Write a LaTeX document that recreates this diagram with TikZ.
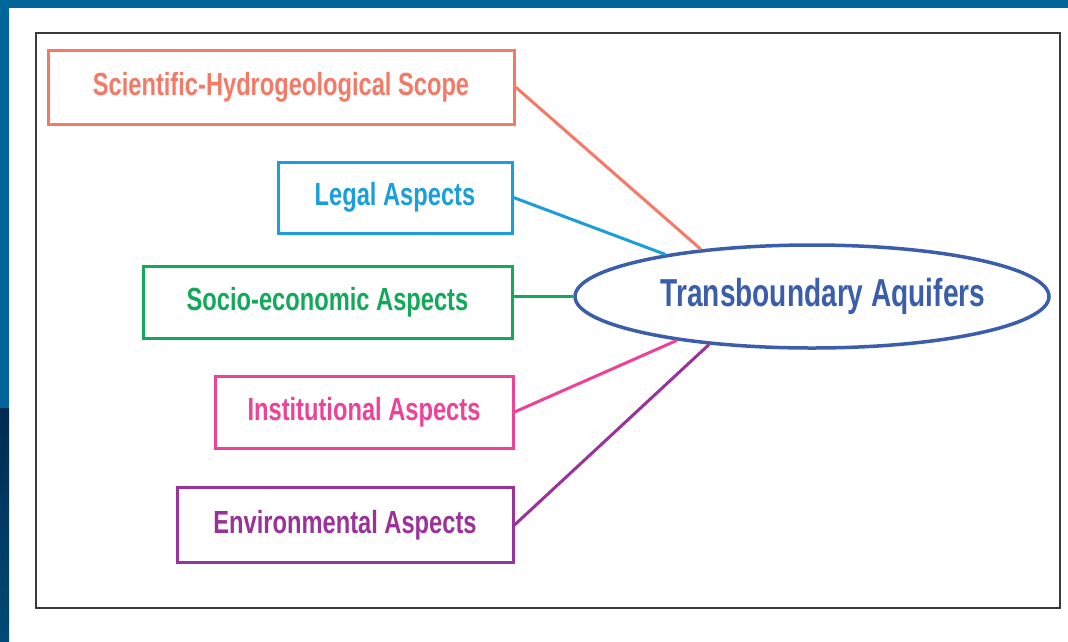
\documentclass[tikz,border=0pt]{standalone}
\usepackage{fontspec}
\usetikzlibrary{shapes.geometric}
\newfontfamily\lblfont[FakeStretch=0.74]{Liberation Sans}
\newfontfamily\hubfont[FakeStretch=0.72]{Liberation Sans}
\definecolor{cSci}{HTML}{F27A66}
\definecolor{cLeg}{HTML}{1A9FDB}
\definecolor{cSoc}{HTML}{13A85A}
\definecolor{cIns}{HTML}{EC4399}
\definecolor{cEnv}{HTML}{993399}
\definecolor{cTA}{HTML}{3B5EAB}
\definecolor{slideblue}{HTML}{006699}
\definecolor{navytop}{HTML}{002A52}
\definecolor{navybot}{HTML}{004A75}
\definecolor{framegray}{HTML}{3A3A3A}
\tikzset{
  aspectbox/.style={draw=#1, text=#1, line width=3pt, rectangle, inner sep=0pt,
    font=\lblfont\bfseries\fontsize{32}{36}\selectfont},
  link/.style={draw=#1, line width=3pt},
  hub/.style={draw=cTA, text=cTA, ellipse, line width=3.5pt, inner sep=0pt,
    minimum width=474pt, minimum height=103pt,
    font=\hubfont\bfseries\fontsize{39}{44}\selectfont}
}
\begin{document}
\begin{tikzpicture}[x=1pt,y=-1pt]
\useasboundingbox (0,0) rectangle (1068,641);
\fill[white] (0,0) rectangle (1068,641);
% slide background strips
\fill[slideblue] (0,0) rectangle (1068,8);
\fill[slideblue] (0,0) rectangle (9,408);
\shade[top color=navytop, bottom color=navybot] (0,408) rectangle (9,641);
% frame
\draw[framegray, line width=2pt] (36,33) rectangle (1060,608);
% nodes
\node[aspectbox=cSci, minimum width=466pt, minimum height=74pt] (sci) at (281,87) {Scientific-Hydrogeological Scope};
\node[aspectbox=cLeg, minimum width=234pt, minimum height=71pt] (leg) at (395,197.5) {Legal Aspects};
\node[aspectbox=cSoc, minimum width=369pt, minimum height=72pt] (soc) at (327.5,302) {Socio-economic Aspects};
\node[aspectbox=cIns, minimum width=298pt, minimum height=72pt] (ins) at (364,412) {Institutional Aspects};
\node[aspectbox=cEnv, minimum width=336pt, minimum height=75pt] (env) at (345,525) {Environmental Aspects};
\node[hub] (ta) at (812,296.5) {\hspace*{11pt}Transboundary Aquifers\hspace*{-11pt}};
% connectors
\draw[link=cSci] (sci.east) -- (ta.157);
\draw[link=cLeg] (leg.east) -- (ta.164);
\draw[link=cSoc] (ta.west -| soc.east) -- (ta.west);
\draw[link=cIns] (ins.east) -- (ta.198);
\draw[link=cEnv] (env.east) -- (ta.205);
\end{tikzpicture}
\end{document}
